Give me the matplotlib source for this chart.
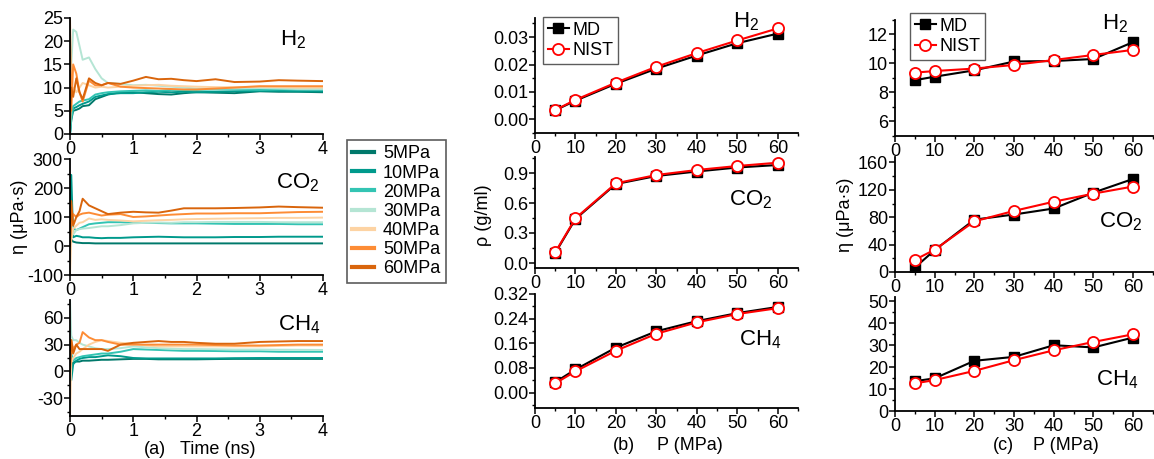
import matplotlib
matplotlib.use("Agg")
import matplotlib.pyplot as plt
from matplotlib.ticker import MultipleLocator, FormatStrFormatter

plt.rcParams['font.family'] = ['Liberation Sans', 'DejaVu Sans']
plt.rcParams['mathtext.fontset'] = 'custom'
plt.rcParams['mathtext.rm'] = 'Liberation Sans'
plt.rcParams['mathtext.it'] = 'Liberation Sans'
plt.rcParams['axes.unicode_minus'] = False

W, H = 1154, 459
fig = plt.figure(figsize=(W / 100, H / 100), dpi=100)

# ---------------- data ----------------
time_ns = [0, 0.02, 0.05, 0.1, 0.15, 0.2, 0.3, 0.4, 0.5, 0.6, 0.8, 1.0, 1.2, 1.4,
           1.6, 1.8, 2.0, 2.3, 2.6, 3.0, 3.3, 3.6, 4.0]
series_labels = ['5MPa', '10MPa', '20MPa', '30MPa', '40MPa', '50MPa', '60MPa']
series_colors = ['#00796b', '#009a8c', '#33c4b3', '#b5e5d4', '#fdd3a3', '#fd8c35', '#d9650c']

h2_eta_t = [
    [0, 3, 5, 5.2, 5.5, 6, 6.2, 7.5, 8, 8.5, 9, 9, 8.8, 8.6, 8.5, 8.8, 9.0, 8.9, 8.8, 9.2, 9.1, 9.1, 9.0],
    [0, 4, 5.5, 5.8, 6.2, 6.5, 7, 8, 8.3, 8.6, 8.8, 8.8, 9, 9.1, 9, 9.1, 9, 9.1, 9.2, 9.3, 9.3, 9.2, 9.2],
    [0, 3, 6, 6.5, 7, 7.2, 7.5, 8.5, 8.8, 9, 9.2, 9.3, 9.4, 9.3, 9.5, 9.5, 9.5, 9.6, 9.6, 9.5, 9.6, 9.6, 9.6],
    [0, 15, 22.5, 22, 19, 16, 16.5, 14, 12, 11, 10.8, 10.5, 10.6, 10.4, 10.2, 10, 9.8, 9.8, 9.8, 9.9, 9.8, 9.7, 9.7],
    [3, 8, 10, 9, 10, 11, 10.5, 10, 10.2, 10, 10.2, 10.4, 10.5, 10.6, 10.4, 10.3, 10.2, 10.1, 10.1, 10.2, 10.1, 10.0, 10.0],
    [25, 5, 15, 13, 9, 7, 11.5, 10.5, 10.5, 11, 10.2, 10, 9.9, 9.8, 9.7, 9.6, 9.6, 9.8, 10, 10.3, 10.3, 10.3, 10.3],
    [2, 10, 8, 12, 9, 7.5, 12, 11, 10.5, 11, 10.8, 11.5, 12.3, 11.8, 11.9, 11.6, 11.4, 11.8, 11.2, 11.3, 11.6, 11.5, 11.4],
]
co2_eta_t = [
    [0, 22, 15, 12, 11, 10, 10, 9, 9, 9, 9, 9, 9, 9, 9, 9, 9, 9, 9, 9, 9, 9, 9],
    [0, 245, 30, 35, 33, 30, 30, 28, 27, 28, 28, 30, 31, 32, 31, 30, 30, 30, 31, 31, 32, 32, 32],
    [0, 150, 60, 55, 60, 65, 75, 78, 80, 82, 82, 80, 80, 79, 78, 78, 78, 77, 76, 76, 76, 75, 75],
    [0, 80, 40, 55, 58, 60, 62, 65, 68, 68, 72, 78, 80, 81, 80, 82, 82, 83, 83, 83, 82, 82, 82],
    [-100, 20, 60, 70, 80, 82, 95, 90, 92, 90, 88, 85, 87, 89, 90, 92, 93, 94, 95, 96, 97, 97, 98],
    [0, 80, 110, 100, 108, 112, 115, 110, 105, 108, 110, 100, 102, 105, 108, 110, 112, 112, 113, 113, 115, 117, 118],
    [0, 155, 70, 100, 120, 163, 140, 130, 120, 110, 115, 118, 116, 115, 122, 130, 130, 130, 131, 133, 136, 134, 132],
]
ch4_eta_t = [
    [0, 5, 10, 11, 11, 12, 12, 12.5, 13, 13, 13.5, 14, 14, 13.5, 13.5, 13.5, 13.5, 13.8, 14, 14, 14, 14, 14],
    [0, -10, 8, 12, 14, 15, 16, 16, 17, 18, 17, 15, 14.5, 14.5, 14.5, 14.5, 14.5, 14.5, 14.8, 15, 15, 15, 15],
    [0, 20, 12, 15, 16, 17, 18, 19, 20, 20, 22, 25, 24.5, 24, 23.5, 23, 23, 22.8, 22.5, 22.5, 22, 22, 22],
    [80, 40, 35, 35, 32, 30, 28, 26, 25, 25, 26, 28, 27, 26, 25.5, 25, 25, 24.8, 24.5, 24.5, 24.3, 24.2, 24],
    [-50, 10, 15, 20, 22, 25, 30, 33, 35, 34, 32, 31, 29, 28, 28, 28, 28, 28, 28, 28, 28.5, 29, 29],
    [0, 35, 25, 30, 32, 44, 38, 35, 35, 33, 30, 30, 30, 30, 30, 30, 30, 29.5, 29, 29, 29.5, 30, 30],
    [0, 35, 20, 30, 25, 25, 25, 25, 25, 23, 30, 32, 33, 34, 33, 33, 32, 31, 31, 33, 33.5, 34, 34],
]

pressure = [5, 10, 20, 30, 40, 50, 60]
h2_rho_md = [0.0033, 0.0068, 0.0130, 0.0185, 0.0233, 0.0278, 0.0313]
h2_rho_nist = [0.0034, 0.0071, 0.0134, 0.0192, 0.0242, 0.0288, 0.0332]
co2_rho_md = [0.10, 0.44, 0.79, 0.87, 0.915, 0.955, 0.98]
co2_rho_nist = [0.107, 0.447, 0.797, 0.88, 0.93, 0.97, 1.003]
ch4_rho_md = [0.034, 0.075, 0.146, 0.199, 0.232, 0.258, 0.278]
ch4_rho_nist = [0.030, 0.069, 0.136, 0.191, 0.228, 0.255, 0.274]

h2_eta_md = [8.85, 9.09, 9.53, 10.14, 10.17, 10.31, 11.48]
h2_eta_nist = [9.37, 9.48, 9.65, 9.90, 10.24, 10.59, 10.94]
co2_eta_md = [6.4, 32, 76.5, 84, 92.8, 116, 136]
co2_eta_nist = [17.8, 32.6, 74, 89.3, 102.7, 114.5, 124.9]
ch4_eta_md = [13.6, 14.9, 22.9, 24.7, 30, 29, 33.5]
ch4_eta_nist = [12.6, 14.1, 18.3, 23.2, 27.7, 31.5, 35]

# ---------------- helpers ----------------
TICK_FS = 13
GAS_FS = 16


def add_ax(x0, x1, ytop, ybot):
    ax = fig.add_axes([x0 / W, 1 - ybot / H, (x1 - x0) / W, (ybot - ytop) / H])
    for s in ['top', 'right']:
        ax.spines[s].set_visible(False)
    for s in ['left', 'bottom']:
        ax.spines[s].set_linewidth(1.3)
    ax.tick_params(which='major', direction='out', length=4, width=1.1,
                   labelsize=TICK_FS, pad=1)
    ax.tick_params(which='minor', direction='out', length=2.5, width=1.0)
    return ax


def ftext(x, y, s, **kw):
    fig.text(x / W, 1 - y / H, s, **kw)


# ---------------- panel (a) ----------------
a_rows = [(18, 134, h2_eta_t, (0, 25), 5, None),
          (159, 275, co2_eta_t, (-100, 300), 100, 50),
          (300, 416, ch4_eta_t, (-50, 80), 30, 15)]
a_axes = []
for ytop, ybot, data, ylim, major, minor in a_rows:
    ax = add_ax(70, 323, ytop, ybot)
    for vals, lab, col in zip(data, series_labels, series_colors):
        ax.plot(time_ns, vals, color=col, lw=1.4, label=lab)
    ax.set_xlim(0, 4)
    ax.set_ylim(*ylim)
    ax.xaxis.set_major_locator(MultipleLocator(1))
    ax.xaxis.set_minor_locator(MultipleLocator(0.5))
    ax.yaxis.set_major_locator(MultipleLocator(major))
    if minor:
        ax.yaxis.set_minor_locator(MultipleLocator(minor))
    a_axes.append(ax)

ftext(293, 40, r'H$_2$', fontsize=GAS_FS, ha='center', va='center')
ftext(298, 183, r'CO$_2$', fontsize=GAS_FS, ha='center', va='center')
ftext(299, 325, r'CH$_4$', fontsize=GAS_FS, ha='center', va='center')
ftext(20, 217, 'η (μPa·s)', fontsize=TICK_FS, rotation=90, ha='center', va='center')
ftext(155, 449, '(a)', fontsize=TICK_FS, ha='center', va='center')
ftext(218, 449, 'Time (ns)', fontsize=TICK_FS, ha='center', va='center')

handles, labels = a_axes[1].get_legend_handles_labels()
leg = fig.legend(handles, labels, loc='upper left',
                 bbox_to_anchor=(347 / W, 1 - 140 / H), fontsize=TICK_FS,
                 handlelength=1.2, handletextpad=0.5, labelspacing=0.12,
                 borderpad=0.3, frameon=True, fancybox=False, borderaxespad=0)
leg.get_frame().set_edgecolor('#333333')
leg.get_frame().set_linewidth(1.2)
for line in leg.get_lines():
    line.set_linewidth(3)


# ---------------- panels (b) and (c) ----------------
def pv_panel(x0, x1, ytop, ybot, md, nist, ylim, major, minor, legend_at=None):
    ax = add_ax(x0, x1, ytop, ybot)
    ax.plot(pressure, md, '-s', color='black', lw=1.5, ms=7, label='MD')
    ax.plot(pressure, nist, '-o', color='red', lw=1.5, ms=8, mfc='white',
            mec='red', mew=1.3, label='NIST')
    ax.set_xlim(0, 65)
    ax.set_ylim(*ylim)
    ax.xaxis.set_major_locator(MultipleLocator(10))
    ax.xaxis.set_minor_locator(MultipleLocator(5))
    ax.yaxis.set_major_locator(MultipleLocator(major))
    ax.yaxis.set_minor_locator(MultipleLocator(minor))
    if legend_at is not None:
        lg = fig.legend(*ax.get_legend_handles_labels(), loc='upper left',
                        bbox_to_anchor=(legend_at[0] / W, 1 - legend_at[1] / H),
                        fontsize=TICK_FS, handlelength=1.2,
                        handletextpad=0.2, labelspacing=0.2, borderpad=0.25,
                        frameon=True, fancybox=False, borderaxespad=0)
        lg.get_frame().set_edgecolor('#333333')
        lg.get_frame().set_linewidth(1.0)
    return ax


axb1 = pv_panel(535, 798, 18, 133, h2_rho_md, h2_rho_nist, (-0.005, 0.037), 0.01, 0.005, (543, 17))
axb1.yaxis.set_major_formatter(FormatStrFormatter('%.2f'))
axb2 = pv_panel(535, 798, 157, 268, co2_rho_md, co2_rho_nist, (-0.05, 1.06), 0.3, 0.15)
axb2.yaxis.set_major_formatter(FormatStrFormatter('%.1f'))
axb3 = pv_panel(535, 798, 294, 408, ch4_rho_md, ch4_rho_nist, (-0.05, 0.32), 0.08, 0.04)
axb3.yaxis.set_major_formatter(FormatStrFormatter('%.2f'))

ftext(746, 22, r'H$_2$', fontsize=GAS_FS, ha='center', va='center')
ftext(751, 200, r'CO$_2$', fontsize=GAS_FS, ha='center', va='center')
ftext(760, 340, r'CH$_4$', fontsize=GAS_FS, ha='center', va='center')
ftext(483, 215, 'ρ (g/ml)', fontsize=TICK_FS, rotation=90, ha='center', va='center')
ftext(624, 446, '(b)', fontsize=TICK_FS, ha='center', va='center')
ftext(690, 446, 'P (MPa)', fontsize=TICK_FS, ha='center', va='center')

axc1 = pv_panel(895, 1153, 20, 136, h2_eta_md, h2_eta_nist, (5, 13), 2, 1, (910, 13))
axc2 = pv_panel(895, 1153, 157, 272, co2_eta_md, co2_eta_nist, (0, 168), 40, 20)
axc3 = pv_panel(895, 1153, 297, 411, ch4_eta_md, ch4_eta_nist, (0, 52), 10, 5)

ftext(1115, 24, r'H$_2$', fontsize=GAS_FS, ha='center', va='center')
ftext(1121, 222, r'CO$_2$', fontsize=GAS_FS, ha='center', va='center')
ftext(1117, 380, r'CH$_4$', fontsize=GAS_FS, ha='center', va='center')
ftext(845, 215, 'η (μPa·s)', fontsize=TICK_FS, rotation=90, ha='center', va='center')
ftext(1003, 446, '(c)', fontsize=TICK_FS, ha='center', va='center')
ftext(1066, 446, 'P (MPa)', fontsize=TICK_FS, ha='center', va='center')

fig.savefig('out.png', dpi=100)
